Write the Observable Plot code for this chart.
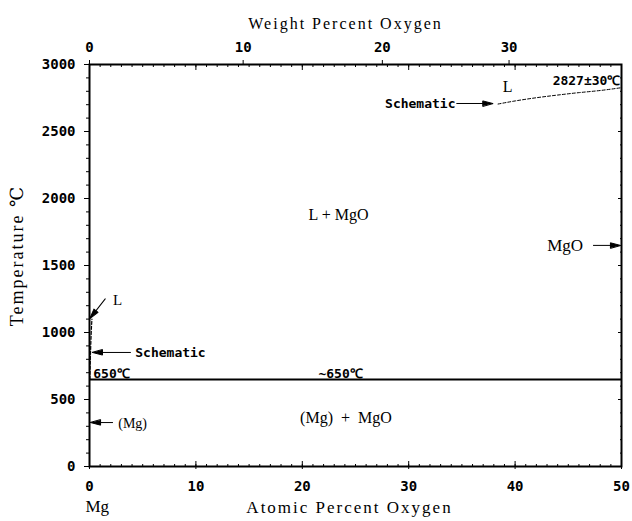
<!DOCTYPE html>
<html><head><meta charset="utf-8">
<script src="https://cdn.jsdelivr.net/npm/d3@7"></script>
<script src="https://cdn.jsdelivr.net/npm/@observablehq/plot@0.6"></script>
<style>body{margin:0;background:#fff}</style>
</head><body><div id="chart"></div>
<script>
// ---- axis tick values ----
const atMajor = [0, 10, 20, 30, 40, 50];
const atMinor = d3.range(0, 51, 1);
const wtMajor = [0, 10, 20, 30];
const tMajor = [0, 500, 1000, 1500, 2000, 2500, 3000];
const tMinor = d3.range(0, 3001, 100);

// ---- phase boundaries ----
const eutecticT = [650];
const liqMgAt = [0.03, 0.08, 0.13, 0.18, 0.23];
const liqMgT = [650, 800, 930, 1030, 1100];
const liqMgOAt = [38.4, 40, 42, 44, 46, 48, 50];
const liqMgOT = [2705, 2728, 2752, 2772, 2790, 2806, 2827];

// ---- serif region labels ----
const regText = ["L + MgO", "(Mg)  +  MgO", "L", "L", "MgO", "(Mg)"];
const regAt = [23.4, 24.1, 39.3, 2.2, 44.7, 2.7];
const regT = [1880, 366, 2836, 1240, 1650, 321];
const regAnchor = ["middle", "middle", "middle", "start", "middle", "start"];
const regSize = [16, 16, 16, 15, 17, 14];

// ---- bold annotations ----
const noteText = ["Schematic", "Schematic", "650℃", "~650℃", "2827±30℃"];
const noteAt = [34.4, 4.3, 0.35, 23.6, 49.9];
const noteT = [2709, 851, 694, 694, 2881];
const noteAnchor = ["end", "start", "start", "middle", "end"];

// ---- arrows (tip position, direction, length in px) ----
const arrowAt = [37.9, 0.28, 0.03, 49.9, 0.1];
const arrowT = [2709, 851, 1104, 1650, 328];
const arrowRotate = [90, 270, 218, 90, 270];
const arrowLen = [36, 38, 25, 27, 22];

const atToWt = a => 16.00 * a / (16.00 * a + 24.305 * (100 - a)) * 100;
const wtToAt = w => (w / 16.00) / ((w / 16.00) + (100 - w) / 24.305) * 100;

const idx = a => a.map((_, i) => i);
const serif = "Liberation Serif, DejaVu Serif, serif";
const mono = "DejaVu Sans Mono, monospace";

const arrowShape = {
  draw(context, l) {
    context.moveTo(0, 0);
    context.lineTo(0, -l + 6);
    context.moveTo(0, -l);
    context.lineTo(-2.6, -l + 10);
    context.lineTo(2.6, -l + 10);
    context.closePath();
  }
};

const anchored = (texts, ats, ts, anchors, opts) =>
  ["start", "middle", "end"].map(a =>
    Plot.text(idx(texts).filter(i => anchors[i] === a), {
      x: i => ats[i], y: i => ts[i], text: i => texts[i], textAnchor: a, ...opts
    }));

const chart = Plot.plot({
  width: 632, height: 521,
  marginLeft: 89, marginRight: 11, marginTop: 64, marginBottom: 55,
  x: {domain: [0, 50], label: null},
  y: {domain: [0, 3000], label: null},
  length: {type: "identity"},
  style: {fontFamily: mono, fontSize: "14px", background: "#fff", color: "#000", overflow: "visible"},
  marks: [
    // bottom axis
    Plot.axisX({anchor: "bottom", ticks: atMajor, tickSize: 3, tickPadding: 12, tickFormat: "d", fontWeight: "bold", fontSize: 14, label: null}),
    Plot.axisX({anchor: "bottom", ticks: atMajor, tickSize: -5, tickFormat: () => "", label: null}),
    Plot.axisX({anchor: "bottom", ticks: atMinor, tickSize: -2, tickFormat: () => "", label: null}),
    // top axis: weight percent (nonlinear)
    Plot.axisX({anchor: "top", ticks: wtMajor.map(wtToAt), tickFormat: d => Math.round(atToWt(d)), tickSize: 5, tickPadding: 8, fontWeight: "bold", fontSize: 14, label: null}),
    Plot.axisX({anchor: "top", ticks: atMajor, tickSize: -5, tickFormat: () => "", label: null}),
    Plot.axisX({anchor: "top", ticks: atMinor, tickSize: -2, tickFormat: () => "", label: null}),
    // left axis
    Plot.axisY({anchor: "left", ticks: tMajor, tickSize: 5, tickPadding: 9, tickFormat: "d", fontWeight: "bold", fontSize: 14, label: null}),
    Plot.axisY({anchor: "left", ticks: tMinor, tickSize: 3, tickFormat: () => "", label: null}),
    // right axis
    Plot.axisY({anchor: "right", ticks: tMajor, tickSize: -4, tickFormat: () => "", label: null}),
    Plot.axisY({anchor: "right", ticks: tMinor, tickSize: -2, tickFormat: () => "", label: null}),
    Plot.frame({strokeWidth: 2}),
    // eutectic / monotectic line
    Plot.ruleY(eutecticT, {strokeWidth: 2}),
    // dashed liquidus lines
    Plot.line(idx(liqMgAt), {x: i => liqMgAt[i], y: i => liqMgT[i], curve: "natural", strokeDasharray: "3,2", strokeWidth: 1.2}),
    Plot.line(idx(liqMgOAt), {x: i => liqMgOAt[i], y: i => liqMgOT[i], curve: "natural", strokeDasharray: "3,2", strokeWidth: 1}),
    // arrows
    Plot.vector(idx(arrowAt), {x: i => arrowAt[i], y: i => arrowT[i], rotate: i => arrowRotate[i], length: i => arrowLen[i],
      anchor: "end", shape: arrowShape, stroke: "#000", fill: "#000", strokeWidth: 1}),
    // region labels
    ...anchored(regText, regAt, regT, regAnchor, {fontFamily: serif, fontSize: i => regSize[i]}),
    // bold notes
    ...anchored(noteText, noteAt, noteT, noteAnchor, {fontWeight: "bold", fontSize: 13}),
    // axis titles
    Plot.text(["Weight Percent Oxygen"], {frameAnchor: "top", textAnchor: "middle", dy: -47, dx: -10, fontFamily: serif, fontSize: 16}),
    Plot.text(["Atomic Percent Oxygen"], {frameAnchor: "bottom", textAnchor: "middle", dy: 46, dx: -6, fontFamily: serif, fontSize: 17}),
    Plot.text(["Mg"], {frameAnchor: "bottom-left", textAnchor: "start", dy: 45, dx: -4, fontFamily: serif, fontSize: 17}),
    Plot.text(["Temperature ℃"], {frameAnchor: "left", textAnchor: "middle", dx: -72, dy: -10, rotate: -90, fontFamily: serif, fontSize: 18})
  ]
});
// widen the serif titles to the reference's spacing
d3.select(chart).selectAll("text").filter(function() {
  const t = this.textContent;
  return t === "Weight Percent Oxygen" || t === "Atomic Percent Oxygen" || t === "Temperature ℃";
}).style("letter-spacing", "2px");
document.getElementById("chart").append(chart);
</script>
</body></html>
